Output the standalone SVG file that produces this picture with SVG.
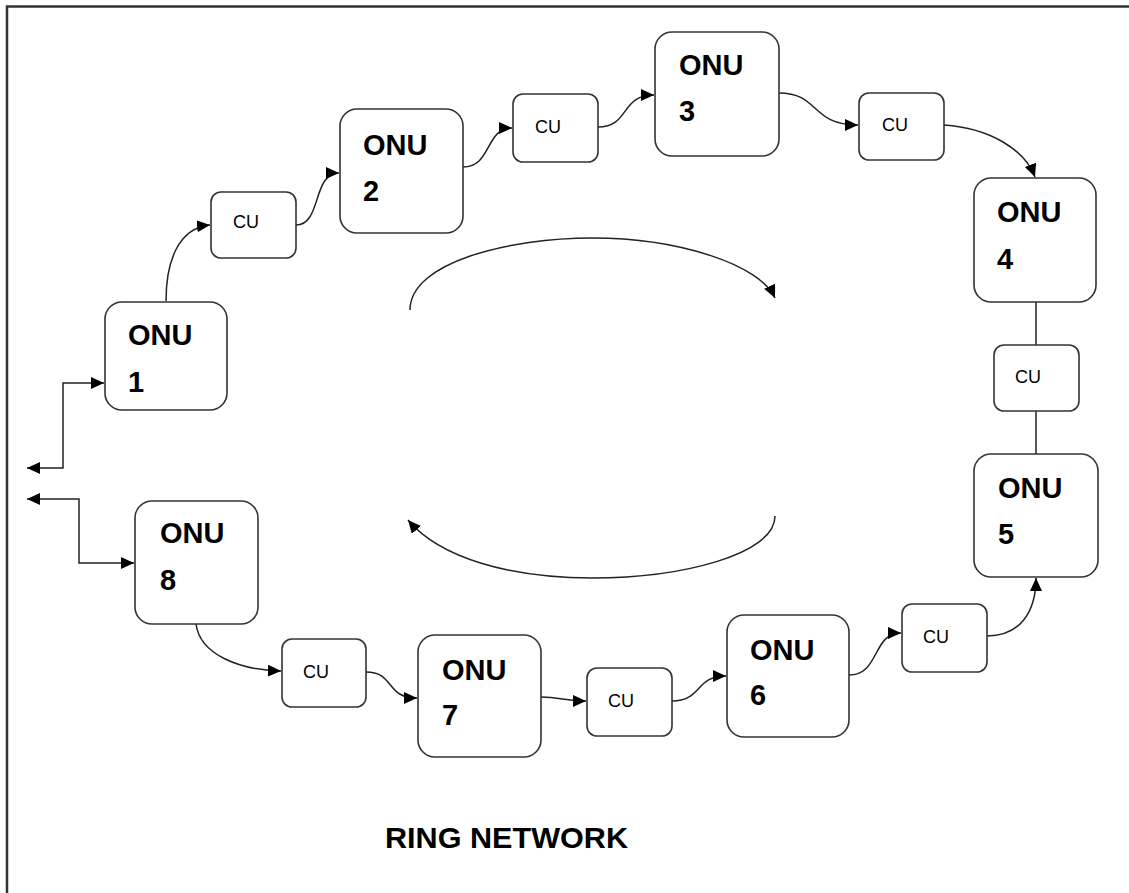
<svg xmlns="http://www.w3.org/2000/svg" width="1129" height="893" viewBox="0 0 1129 893">
<style>
.onu{fill:#fff;stroke:#333;stroke-width:1.6}
.cu{fill:#fff;stroke:#333;stroke-width:1.6}
.t{font-family:"Liberation Sans",Arial,sans-serif;font-weight:bold;font-size:29px;fill:#000}
.c{font-family:"Liberation Sans",Arial,sans-serif;font-size:18px;fill:#000}
.ln{fill:none;stroke:#222;stroke-width:1.5}
.title{font-family:"Liberation Sans",Arial,sans-serif;font-weight:bold;font-size:30px;fill:#000}
</style>
<defs>
<marker id="ah" markerUnits="userSpaceOnUse" markerWidth="15" markerHeight="13" refX="13" refY="6" orient="auto-start-reverse">
<path d="M0,0 L13,6 L0,12 z" fill="#000"/>
</marker>
</defs>
<rect width="1129" height="893" fill="#fff"/>
<path d="M7,893 L7,6.5 L1129,6.5" fill="none" stroke="#333" stroke-width="2.5"/>

<g id="connectors">
<path class="ln" d="M27,468 L63,468 L63,383 L104,383" marker-start="url(#ah)" marker-end="url(#ah)"/>
<path class="ln" d="M27,499 L79,499 L79,563 L134,563" marker-start="url(#ah)" marker-end="url(#ah)"/>
<path class="ln" d="M166,301 C166,262 178,228 210,225" marker-end="url(#ah)"/>
<path class="ln" d="M296,225 C322,225 312,173 339,173" marker-end="url(#ah)"/>
<path class="ln" d="M463,167 C492,167 485,128 512,128" marker-end="url(#ah)"/>
<path class="ln" d="M598,127 C630,127 620,95 654,95" marker-end="url(#ah)"/>
<path class="ln" d="M779,93 C820,93 810,125 858,125" marker-end="url(#ah)"/>
<path class="ln" d="M944,125 C990,128 1025,150 1035,177" marker-end="url(#ah)"/>
<path class="ln" d="M1036,302 L1036,345 M1036,411 L1036,454"/>
<path class="ln" d="M987,636 C1020,636 1036,612 1036,578" marker-end="url(#ah)"/>
<path class="ln" d="M849,675 C880,675 872,633 901,633" marker-end="url(#ah)"/>
<path class="ln" d="M672,701 C702,701 695,676 726,676" marker-end="url(#ah)"/>
<path class="ln" d="M541,697 C560,697 565,701 586,701" marker-end="url(#ah)"/>
<path class="ln" d="M366,672 C395,672 385,698 417,698" marker-end="url(#ah)"/>
<path class="ln" d="M196,624 C200,655 240,670 281,671" marker-end="url(#ah)"/>
<path class="ln" d="M410,310 C410,262 510,238 592,238 C680,238 760,265 775,298" marker-end="url(#ah)"/>
<path class="ln" d="M775,516 C775,555 680,578 592,578 C510,578 440,558 408,520" marker-end="url(#ah)"/>
</g>

<g id="onu1"><rect class="onu" x="105" y="302" width="122" height="108" rx="17"/><text class="t" x="128" y="345">ONU</text><text class="t" x="128" y="392">1</text></g>
<g id="onu2"><rect class="onu" x="340" y="109" width="123" height="124" rx="17"/><text class="t" x="363" y="155">ONU</text><text class="t" x="363" y="201">2</text></g>
<g id="onu3"><rect class="onu" x="655" y="32" width="124" height="124" rx="17"/><text class="t" x="679" y="75">ONU</text><text class="t" x="679" y="121">3</text></g>
<g id="onu4"><rect class="onu" x="974" y="178" width="122" height="124" rx="17"/><text class="t" x="997" y="222">ONU</text><text class="t" x="997" y="269">4</text></g>
<g id="onu5"><rect class="onu" x="974" y="454" width="124" height="123" rx="17"/><text class="t" x="998" y="498">ONU</text><text class="t" x="998" y="544">5</text></g>
<g id="onu6"><rect class="onu" x="727" y="615" width="122" height="122" rx="17"/><text class="t" x="750" y="660">ONU</text><text class="t" x="750" y="705">6</text></g>
<g id="onu7"><rect class="onu" x="418" y="635" width="123" height="122" rx="17"/><text class="t" x="442" y="680">ONU</text><text class="t" x="442" y="725">7</text></g>
<g id="onu8"><rect class="onu" x="135" y="501" width="123" height="123" rx="17"/><text class="t" x="160" y="543">ONU</text><text class="t" x="160" y="590">8</text></g>

<g id="cu1"><rect class="cu" x="211" y="192" width="85" height="66" rx="10"/><text class="c" x="233" y="228">CU</text></g>
<g id="cu2"><rect class="cu" x="513" y="94" width="85" height="68" rx="10"/><text class="c" x="535" y="133">CU</text></g>
<g id="cu3"><rect class="cu" x="859" y="93" width="85" height="67" rx="10"/><text class="c" x="882" y="131">CU</text></g>
<g id="cu4"><rect class="cu" x="994" y="345" width="85" height="66" rx="10"/><text class="c" x="1015" y="383">CU</text></g>
<g id="cu5"><rect class="cu" x="902" y="604" width="85" height="68" rx="10"/><text class="c" x="923" y="643">CU</text></g>
<g id="cu6"><rect class="cu" x="587" y="668" width="85" height="68" rx="10"/><text class="c" x="608" y="707">CU</text></g>
<g id="cu7"><rect class="cu" x="282" y="639" width="84" height="68" rx="10"/><text class="c" x="303" y="678">CU</text></g>

<text class="title" x="385" y="848" textLength="243" lengthAdjust="spacingAndGlyphs">RING NETWORK</text>
</svg>
